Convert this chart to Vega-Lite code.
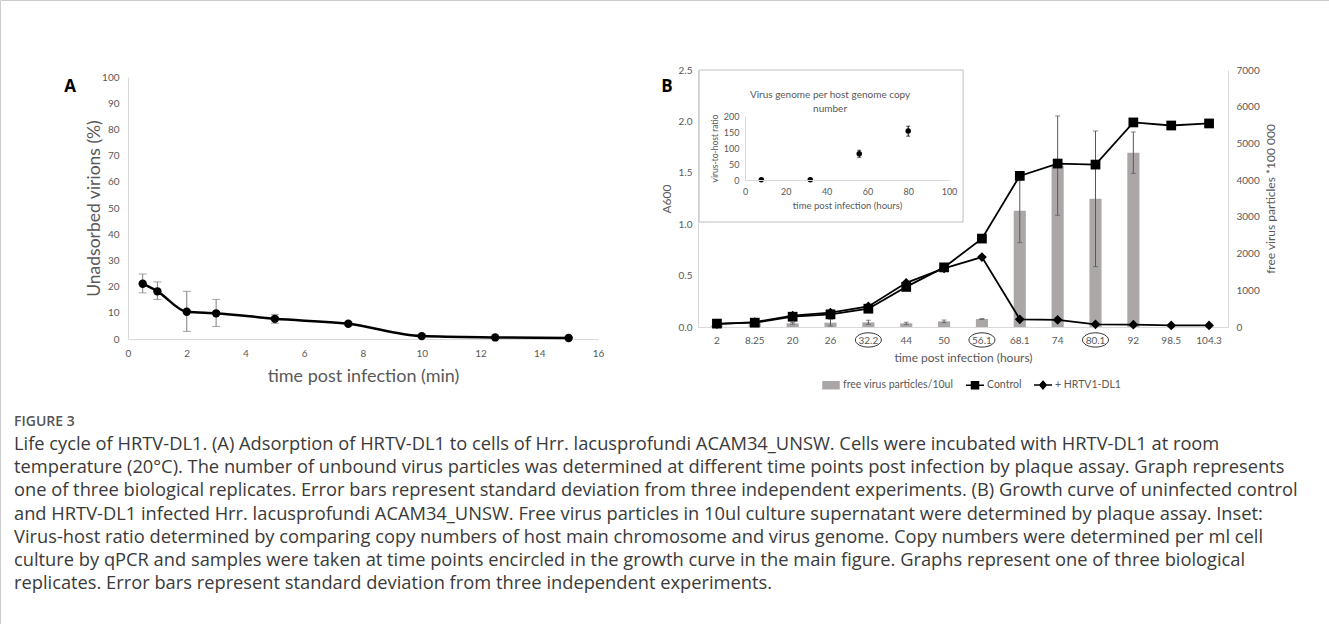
{
  "$schema": "https://vega.github.io/schema/vega-lite/v6.json",
  "width": 1329,
  "height": 624,
  "autosize": "none",
  "padding": 0,
  "background": "white",
  "config": {
    "view": {"stroke": "#cccccc"},
    "axis": {"grid": false, "ticks": false, "domainColor": "#d9d9d9", "labelColor": "#595959", "titleColor": "#595959", "labelFont": "Lato", "titleFont": "Lato", "titleFontWeight": "normal", "labelFlush": false, "labelOverlap": false},
    "text": {"font": "Lato"}
  },
  "datasets": {
    "adsorption": [
      {"t": 0.5, "v": 21.1, "lo": 17.6, "hi": 24.8},
      {"t": 1, "v": 18.2, "lo": 15.1, "hi": 21.8},
      {"t": 2, "v": 10.4, "lo": 2.9, "hi": 18.2},
      {"t": 3, "v": 9.8, "lo": 4.8, "hi": 15.1},
      {"t": 5, "v": 7.7, "lo": 6.0, "hi": 9.4},
      {"t": 7.5, "v": 5.8, "lo": 5.1, "hi": 6.5},
      {"t": 10, "v": 1.1, "lo": 0.8, "hi": 1.4},
      {"t": 12.5, "v": 0.6, "lo": 0.4, "hi": 0.8},
      {"t": 15, "v": 0.4, "lo": 0.3, "hi": 0.5}
    ],
    "growth": [
      {"t": 2, "series": "Control", "a": 0.033},
      {"t": 8.25, "series": "Control", "a": 0.042},
      {"t": 20, "series": "Control", "a": 0.1},
      {"t": 26, "series": "Control", "a": 0.123},
      {"t": 32.2, "series": "Control", "a": 0.178},
      {"t": 44, "series": "Control", "a": 0.39},
      {"t": 50, "series": "Control", "a": 0.58},
      {"t": 56.1, "series": "Control", "a": 0.86},
      {"t": 68.1, "series": "Control", "a": 1.47},
      {"t": 74, "series": "Control", "a": 1.59},
      {"t": 80.1, "series": "Control", "a": 1.58},
      {"t": 92, "series": "Control", "a": 1.99},
      {"t": 98.5, "series": "Control", "a": 1.96},
      {"t": 104.3, "series": "Control", "a": 1.98},
      {"t": 2, "series": "+ HRTV1-DL1", "a": 0.028},
      {"t": 8.25, "series": "+ HRTV1-DL1", "a": 0.048},
      {"t": 20, "series": "+ HRTV1-DL1", "a": 0.11},
      {"t": 26, "series": "+ HRTV1-DL1", "a": 0.14},
      {"t": 32.2, "series": "+ HRTV1-DL1", "a": 0.2},
      {"t": 44, "series": "+ HRTV1-DL1", "a": 0.43},
      {"t": 50, "series": "+ HRTV1-DL1", "a": 0.57},
      {"t": 56.1, "series": "+ HRTV1-DL1", "a": 0.68},
      {"t": 68.1, "series": "+ HRTV1-DL1", "a": 0.075},
      {"t": 74, "series": "+ HRTV1-DL1", "a": 0.07},
      {"t": 80.1, "series": "+ HRTV1-DL1", "a": 0.026},
      {"t": 92, "series": "+ HRTV1-DL1", "a": 0.023},
      {"t": 98.5, "series": "+ HRTV1-DL1", "a": 0.015},
      {"t": 104.3, "series": "+ HRTV1-DL1", "a": 0.015}
    ],
    "virus": [
      {"t": 2, "n": 40, "lo": 25, "hi": 55},
      {"t": 8.25, "n": 100, "lo": 80, "hi": 120},
      {"t": 20, "n": 100, "lo": 75, "hi": 125},
      {"t": 26, "n": 118, "lo": 30, "hi": 210},
      {"t": 32.2, "n": 127, "lo": 70, "hi": 185},
      {"t": 44, "n": 100, "lo": 70, "hi": 130},
      {"t": 50, "n": 154, "lo": 120, "hi": 190},
      {"t": 56.1, "n": 218, "lo": 205, "hi": 230},
      {"t": 68.1, "n": 3168, "lo": 2297, "hi": 4004},
      {"t": 74, "n": 4390, "lo": 3042, "hi": 5748},
      {"t": 80.1, "n": 3496, "lo": 1643, "hi": 5339},
      {"t": 92, "n": 4749, "lo": 4186, "hi": 5312}
    ],
    "circled": [{"t": 32.2}, {"t": 56.1}, {"t": 80.1}],
    "ratio": [
      {"t": 8, "r": 1, "lo": 0, "hi": 2},
      {"t": 32, "r": 1, "lo": 0, "hi": 2},
      {"t": 56, "r": 82, "lo": 71, "hi": 93},
      {"t": 80, "r": 153, "lo": 137, "hi": 168}
    ],
    "caption": [
      {"n": 1, "s": "Life cycle of HRTV-DL1. (A) Adsorption of HRTV-DL1 to cells of Hrr. lacusprofundi ACAM34_UNSW. Cells were incubated with HRTV-DL1 at room"},
      {"n": 2, "s": "temperature (20°C). The number of unbound virus particles was determined at different time points post infection by plaque assay. Graph represents"},
      {"n": 3, "s": "one of three biological replicates. Error bars represent standard deviation from three independent experiments. (B) Growth curve of uninfected control"},
      {"n": 4, "s": "and HRTV-DL1 infected Hrr. lacusprofundi ACAM34_UNSW. Free virus particles in 10ul culture supernatant were determined by plaque assay. Inset:"},
      {"n": 5, "s": "Virus-host ratio determined by comparing copy numbers of host main chromosome and virus genome. Copy numbers were determined per ml cell"},
      {"n": 6, "s": "culture by qPCR and samples were taken at time points encircled in the growth curve in the main figure. Graphs represent one of three biological"},
      {"n": 7, "s": "replicates. Error bars represent standard deviation from three independent experiments."}
    ]
  },
  "resolve": {"scale": {"x": "independent", "y": "independent"}},
  "layer": [
    {"data": {"name": "adsorption"},
     "mark": {"type": "rule", "color": "#7f7f7f", "strokeWidth": 1},
     "encoding": {
       "x": {"field": "t", "type": "quantitative", "scale": {"domain": [0, 16], "range": [128, 598], "nice": false, "zero": false}, "axis": null},
       "y": {"field": "lo", "type": "quantitative", "scale": {"domain": [0, 100], "range": [339, 77], "nice": false, "zero": false}, "axis": null},
       "y2": {"field": "hi"}}},
    {"data": {"name": "adsorption"},
     "mark": {"type": "tick", "orient": "horizontal", "size": 8, "thickness": 1, "color": "#7f7f7f"},
     "encoding": {
       "x": {"field": "t", "type": "quantitative", "scale": {"domain": [0, 16], "range": [128, 598], "nice": false, "zero": false}, "axis": null},
       "y": {"field": "lo", "type": "quantitative", "scale": {"domain": [0, 100], "range": [339, 77], "nice": false, "zero": false}, "axis": null}}},
    {"data": {"name": "adsorption"},
     "mark": {"type": "tick", "orient": "horizontal", "size": 8, "thickness": 1, "color": "#7f7f7f"},
     "encoding": {
       "x": {"field": "t", "type": "quantitative", "scale": {"domain": [0, 16], "range": [128, 598], "nice": false, "zero": false}, "axis": null},
       "y": {"field": "hi", "type": "quantitative", "scale": {"domain": [0, 100], "range": [339, 77], "nice": false, "zero": false}, "axis": null}}},
    {"data": {"name": "adsorption"},
     "mark": {"type": "line", "color": "black", "strokeWidth": 2.5, "interpolate": "monotone"},
     "encoding": {
       "x": {"field": "t", "type": "quantitative", "scale": {"domain": [0, 16], "range": [128, 598], "nice": false, "zero": false},
             "axis": {"orient": "bottom", "offset": -285, "values": [0, 2, 4, 6, 8, 10, 12, 14, 16], "labelFontSize": 10, "labelPadding": 9, "title": "time post infection (min)", "titleFontSize": 18, "titlePadding": 9}},
       "y": {"field": "v", "type": "quantitative", "scale": {"domain": [0, 100], "range": [339, 77], "nice": false, "zero": false},
             "axis": {"orient": "left", "offset": -128, "values": [0, 10, 20, 30, 40, 50, 60, 70, 80, 90, 100], "labelFontSize": 10, "labelPadding": 9, "title": "Unadsorbed virions (%)", "titleFontSize": 17.5, "titlePadding": -2}}}},
    {"data": {"name": "adsorption"},
     "mark": {"type": "point", "filled": true, "color": "black", "size": 70, "opacity": 1},
     "encoding": {
       "x": {"field": "t", "type": "quantitative", "scale": {"domain": [0, 16], "range": [128, 598], "nice": false, "zero": false}, "axis": null},
       "y": {"field": "v", "type": "quantitative", "scale": {"domain": [0, 100], "range": [339, 77], "nice": false, "zero": false}, "axis": null}}},
    {"data": {"values": [{}]},
     "mark": {"type": "text", "text": "A", "fontSize": 17, "fontWeight": "bold", "color": "black", "font": "Open Sans"},
     "encoding": {
       "x": {"datum": -1.97, "type": "quantitative", "scale": {"domain": [0, 16], "range": [128, 598], "nice": false, "zero": false}, "axis": null},
       "y": {"datum": 96.2, "type": "quantitative", "scale": {"domain": [0, 100], "range": [339, 77], "nice": false, "zero": false}, "axis": null}}},
    {"data": {"values": [{}]},
     "mark": {"type": "text", "text": "B", "fontSize": 17, "fontWeight": "bold", "color": "black", "font": "Open Sans"},
     "encoding": {
       "x": {"datum": 18.35, "type": "quantitative", "scale": {"domain": [0, 16], "range": [128, 598], "nice": false, "zero": false}, "axis": null},
       "y": {"datum": 96.2, "type": "quantitative", "scale": {"domain": [0, 100], "range": [339, 77], "nice": false, "zero": false}, "axis": null}}},
    {"data": {"name": "virus"},
     "mark": {"type": "bar"},
     "encoding": {
       "x": {"field": "t", "type": "ordinal", "scale": {"type": "band", "domain": [2, 8.25, 20, 26, 32.2, 44, 50, 56.1, 68.1, 74, 80.1, 92, 98.5, 104.3], "range": [698, 1228], "paddingInner": 0.68, "paddingOuter": 0.34},
             "axis": {"orient": "bottom", "offset": -297, "labelAngle": 0, "labelFontSize": 10, "labelPadding": 8, "title": "time post infection (hours)", "titleFontSize": 12, "titlePadding": 7}},
       "y": {"field": "n", "type": "quantitative", "scale": {"domain": [0, 7000], "range": [327, 70], "nice": false, "zero": false},
             "axis": {"orient": "right", "offset": -101, "values": [0, 1000, 2000, 3000, 4000, 5000, 6000, 7000], "format": "d", "labelFontSize": 10, "labelPadding": 8, "title": "free virus particles *100 000", "titleAngle": 270, "titleBaseline": "top", "titleFontSize": 12, "titlePadding": 6}},
       "color": {"datum": "free virus particles/10ul", "type": "nominal",
                 "scale": {"domain": ["free virus particles/10ul", "Control", "+ HRTV1-DL1"], "range": ["#aba7a7", "black", "black"]},
                 "legend": {"orient": "none", "legendX": 821, "legendY": 375, "direction": "horizontal", "title": null, "symbolSize": 324, "symbolStrokeWidth": 1.5, "labelFont": "Lato", "labelFontSize": 10.5, "labelColor": "#595959", "labelOffset": 2, "columnPadding": 9,
                            "encode": {"symbols": {"update": {
                              "shape": {"signal": "datum.value === 'Control' ? 'M-1,0H1M-0.39,-0.39H0.39V0.39H-0.39Z' : (datum.value === '+ HRTV1-DL1' ? 'M-1,0H1M0,-0.42L0.36,0L0,0.42L-0.36,0Z' : 'M-0.89,-0.39H0.89V0.39H-0.89Z')"},
                              "fill": {"signal": "datum.value === 'free virus particles/10ul' ? '#aba7a7' : 'black'"},
                              "stroke": {"signal": "datum.value === 'free virus particles/10ul' ? '#aba7a7' : 'black'"},
                              "opacity": {"value": 1}, "fillOpacity": {"value": 1}, "strokeOpacity": {"value": 1}}}}}}}},
    {"data": {"name": "virus"},
     "mark": {"type": "rule", "color": "#595959", "strokeWidth": 1},
     "encoding": {
       "x": {"field": "t", "type": "ordinal", "scale": {"type": "band", "domain": [2, 8.25, 20, 26, 32.2, 44, 50, 56.1, 68.1, 74, 80.1, 92, 98.5, 104.3], "range": [698, 1228], "paddingInner": 0.68, "paddingOuter": 0.34}, "axis": null},
       "y": {"field": "lo", "type": "quantitative", "scale": {"domain": [0, 7000], "range": [327, 70], "nice": false, "zero": false}, "axis": null},
       "y2": {"field": "hi"}}},
    {"data": {"name": "virus"},
     "mark": {"type": "tick", "orient": "horizontal", "size": 5, "thickness": 1, "color": "#595959"},
     "encoding": {
       "x": {"field": "t", "type": "ordinal", "scale": {"type": "band", "domain": [2, 8.25, 20, 26, 32.2, 44, 50, 56.1, 68.1, 74, 80.1, 92, 98.5, 104.3], "range": [698, 1228], "paddingInner": 0.68, "paddingOuter": 0.34}, "axis": null},
       "y": {"field": "lo", "type": "quantitative", "scale": {"domain": [0, 7000], "range": [327, 70], "nice": false, "zero": false}, "axis": null}}},
    {"data": {"name": "virus"},
     "mark": {"type": "tick", "orient": "horizontal", "size": 5, "thickness": 1, "color": "#595959"},
     "encoding": {
       "x": {"field": "t", "type": "ordinal", "scale": {"type": "band", "domain": [2, 8.25, 20, 26, 32.2, 44, 50, 56.1, 68.1, 74, 80.1, 92, 98.5, 104.3], "range": [698, 1228], "paddingInner": 0.68, "paddingOuter": 0.34}, "axis": null},
       "y": {"field": "hi", "type": "quantitative", "scale": {"domain": [0, 7000], "range": [327, 70], "nice": false, "zero": false}, "axis": null}}},
    {"data": {"name": "growth"},
     "mark": {"type": "line", "strokeWidth": 1.8},
     "encoding": {
       "x": {"field": "t", "type": "ordinal", "scale": {"type": "band", "domain": [2, 8.25, 20, 26, 32.2, 44, 50, 56.1, 68.1, 74, 80.1, 92, 98.5, 104.3], "range": [698, 1228], "paddingInner": 0.68, "paddingOuter": 0.34}, "axis": null},
       "y": {"field": "a", "type": "quantitative", "scale": {"domain": [0, 2.5], "range": [327, 70], "nice": false, "zero": false},
             "axis": {"orient": "left", "offset": -698, "values": [0, 0.5, 1, 1.5, 2, 2.5], "format": ".1f", "labelFontSize": 10, "labelPadding": 6, "title": "A600", "titleFontSize": 12, "titlePadding": 5}},
       "color": {"field": "series", "type": "nominal",
                 "scale": {"domain": ["free virus particles/10ul", "Control", "+ HRTV1-DL1"], "range": ["#aba7a7", "black", "black"]},
                 "legend": {"orient": "none", "legendX": 821, "legendY": 375, "direction": "horizontal", "title": null, "symbolSize": 324, "symbolStrokeWidth": 1.5, "labelFont": "Lato", "labelFontSize": 10.5, "labelColor": "#595959", "labelOffset": 2, "columnPadding": 9,
                            "encode": {"symbols": {"update": {
                              "shape": {"signal": "datum.value === 'Control' ? 'M-1,0H1M-0.39,-0.39H0.39V0.39H-0.39Z' : (datum.value === '+ HRTV1-DL1' ? 'M-1,0H1M0,-0.42L0.36,0L0,0.42L-0.36,0Z' : 'M-0.89,-0.39H0.89V0.39H-0.89Z')"},
                              "fill": {"signal": "datum.value === 'free virus particles/10ul' ? '#aba7a7' : 'black'"},
                              "stroke": {"signal": "datum.value === 'free virus particles/10ul' ? '#aba7a7' : 'black'"},
                              "opacity": {"value": 1}, "fillOpacity": {"value": 1}, "strokeOpacity": {"value": 1}}}}}}}},
    {"data": {"name": "growth"},
     "mark": {"type": "point", "filled": true, "opacity": 1, "size": 95},
     "encoding": {
       "x": {"field": "t", "type": "ordinal", "scale": {"type": "band", "domain": [2, 8.25, 20, 26, 32.2, 44, 50, 56.1, 68.1, 74, 80.1, 92, 98.5, 104.3], "range": [698, 1228], "paddingInner": 0.68, "paddingOuter": 0.34}, "axis": null},
       "y": {"field": "a", "type": "quantitative", "scale": {"domain": [0, 2.5], "range": [327, 70], "nice": false, "zero": false}, "axis": null},
       "color": {"field": "series", "type": "nominal",
                 "scale": {"domain": ["free virus particles/10ul", "Control", "+ HRTV1-DL1"], "range": ["#aba7a7", "black", "black"]},
                 "legend": {"orient": "none", "legendX": 821, "legendY": 375, "direction": "horizontal", "title": null, "symbolSize": 324, "symbolStrokeWidth": 1.5, "labelFont": "Lato", "labelFontSize": 10.5, "labelColor": "#595959", "labelOffset": 2, "columnPadding": 9,
                            "encode": {"symbols": {"update": {
                              "shape": {"signal": "datum.value === 'Control' ? 'M-1,0H1M-0.39,-0.39H0.39V0.39H-0.39Z' : (datum.value === '+ HRTV1-DL1' ? 'M-1,0H1M0,-0.42L0.36,0L0,0.42L-0.36,0Z' : 'M-0.89,-0.39H0.89V0.39H-0.89Z')"},
                              "fill": {"signal": "datum.value === 'free virus particles/10ul' ? '#aba7a7' : 'black'"},
                              "stroke": {"signal": "datum.value === 'free virus particles/10ul' ? '#aba7a7' : 'black'"},
                              "opacity": {"value": 1}, "fillOpacity": {"value": 1}, "strokeOpacity": {"value": 1}}}}}},
       "shape": {"field": "series", "type": "nominal", "scale": {"domain": ["Control", "+ HRTV1-DL1"], "range": ["square", "diamond"]}, "legend": null}}},
    {"data": {"name": "circled"},
     "mark": {"type": "point", "shape": "M-1,0A1,0.55 0 1,1 1,0A1,0.55 0 1,1 -1,0Z", "size": 676, "filled": false, "stroke": "black", "strokeWidth": 0.8, "opacity": 1},
     "encoding": {
       "x": {"field": "t", "type": "ordinal", "scale": {"type": "band", "domain": [2, 8.25, 20, 26, 32.2, 44, 50, 56.1, 68.1, 74, 80.1, 92, 98.5, 104.3], "range": [698, 1228], "paddingInner": 0.68, "paddingOuter": 0.34}, "axis": null},
       "y": {"datum": -0.126, "type": "quantitative", "scale": {"domain": [0, 2.5], "range": [327, 70], "nice": false, "zero": false}, "axis": null}}},
    {"data": {"values": [{}]},
     "mark": {"type": "rect", "fill": "white", "stroke": "#bfbfbf", "strokeWidth": 1},
     "encoding": {
       "x": {"datum": -22.5, "type": "quantitative", "scale": {"domain": [0, 100], "range": [745, 949], "nice": false, "zero": false}, "axis": null},
       "x2": {"datum": 106.9},
       "y": {"datum": -131.25, "type": "quantitative", "scale": {"domain": [0, 200], "range": [180, 116], "nice": false, "zero": false}, "axis": null},
       "y2": {"datum": 343.75}}},
    {"data": {"values": [{}]},
     "mark": {"type": "text", "text": ["Virus genome per host genome copy", "number"], "lineHeight": 14, "fontSize": 10, "color": "#595959", "baseline": "middle"},
     "encoding": {
       "x": {"datum": 41.7, "type": "quantitative", "scale": {"domain": [0, 100], "range": [745, 949], "nice": false, "zero": false}, "axis": null},
       "y": {"datum": 265.6, "type": "quantitative", "scale": {"domain": [0, 200], "range": [180, 116], "nice": false, "zero": false}, "axis": null}}},
    {"data": {"name": "ratio"},
     "mark": {"type": "rule", "color": "black", "strokeWidth": 1},
     "encoding": {
       "x": {"field": "t", "type": "quantitative", "scale": {"domain": [0, 100], "range": [745, 949], "nice": false, "zero": false}, "axis": null},
       "y": {"field": "lo", "type": "quantitative", "scale": {"domain": [0, 200], "range": [180, 116], "nice": false, "zero": false}, "axis": null},
       "y2": {"field": "hi"}}},
    {"data": {"name": "ratio"},
     "mark": {"type": "tick", "orient": "horizontal", "size": 4, "thickness": 1, "color": "black"},
     "encoding": {
       "x": {"field": "t", "type": "quantitative", "scale": {"domain": [0, 100], "range": [745, 949], "nice": false, "zero": false}, "axis": null},
       "y": {"field": "lo", "type": "quantitative", "scale": {"domain": [0, 200], "range": [180, 116], "nice": false, "zero": false}, "axis": null}}},
    {"data": {"name": "ratio"},
     "mark": {"type": "tick", "orient": "horizontal", "size": 4, "thickness": 1, "color": "black"},
     "encoding": {
       "x": {"field": "t", "type": "quantitative", "scale": {"domain": [0, 100], "range": [745, 949], "nice": false, "zero": false}, "axis": null},
       "y": {"field": "hi", "type": "quantitative", "scale": {"domain": [0, 200], "range": [180, 116], "nice": false, "zero": false}, "axis": null}}},
    {"data": {"name": "ratio"},
     "mark": {"type": "point", "filled": true, "color": "black", "size": 30, "opacity": 1},
     "encoding": {
       "x": {"field": "t", "type": "quantitative", "scale": {"domain": [0, 100], "range": [745, 949], "nice": false, "zero": false},
             "axis": {"orient": "bottom", "offset": -444, "zindex": 1, "values": [0, 20, 40, 60, 80, 100], "labelFontSize": 9, "labelPadding": 7, "title": "time post infection (hours)", "titleFontSize": 9.5, "titlePadding": 4}},
       "y": {"field": "r", "type": "quantitative", "scale": {"domain": [0, 200], "range": [180, 116], "nice": false, "zero": false},
             "axis": {"orient": "left", "offset": -745, "zindex": 1, "values": [0, 50, 100, 150, 200], "labelFontSize": 9, "labelPadding": 6, "title": "virus-to-host ratio", "titleFontSize": 8.5, "titlePadding": 4}}}},
    {"data": {"values": [{}]},
     "mark": {"type": "text", "text": "FIGURE 3", "align": "left", "baseline": "middle", "font": "Open Sans", "fontSize": 14, "fontWeight": 600, "color": "#555555"},
     "encoding": {
       "x": {"datum": 0, "type": "quantitative", "scale": {"domain": [0, 1], "range": [14, 1314]}, "axis": null},
       "y": {"datum": 0, "type": "quantitative", "scale": {"domain": [0, 7], "range": [422, 584], "nice": false, "zero": false}, "axis": null}}},
    {"data": {"name": "caption"},
     "mark": {"type": "text", "align": "left", "baseline": "middle", "font": "Open Sans", "fontSize": 18.3, "color": "#3a3a3a"},
     "encoding": {
       "x": {"datum": 0, "type": "quantitative", "scale": {"domain": [0, 1], "range": [14, 1314]}, "axis": null},
       "y": {"field": "n", "type": "quantitative", "scale": {"domain": [0, 7], "range": [422, 584], "nice": false, "zero": false}, "axis": null},
       "text": {"field": "s"}}}
  ]
}
